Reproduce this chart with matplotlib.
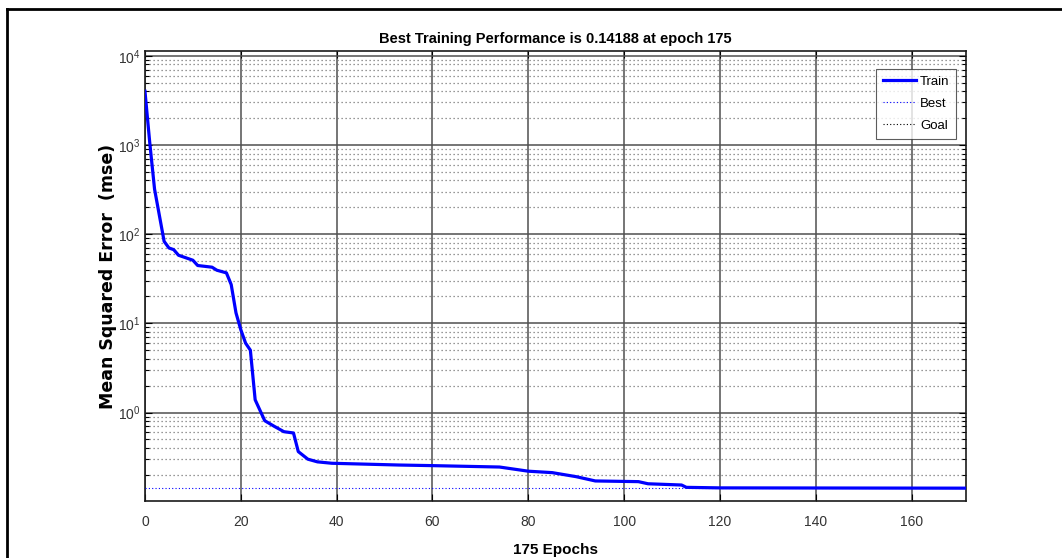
import matplotlib.pyplot as plt
from matplotlib.lines import Line2D
from matplotlib.ticker import FixedLocator, NullFormatter

# Training record (epoch, mean squared error)
epochs = [0, 1, 2, 4, 5, 6, 7, 10, 11, 14, 15, 17, 18, 19, 20, 21, 22, 23,
          25, 27, 29, 31, 32, 34, 36, 39, 53, 60, 74, 80, 85, 90, 94, 103,
          105, 112, 113, 120, 175]
mse = [4000, 1060, 320, 83, 70, 67, 58, 51, 44.5, 42.6, 39.4, 36.8, 27.2,
       13.1, 8.5, 6.0, 5.0, 1.39, 0.81, 0.70, 0.61, 0.59, 0.365, 0.30, 0.28,
       0.27, 0.258, 0.254, 0.245, 0.22, 0.212, 0.191, 0.171, 0.168, 0.159,
       0.154, 0.145, 0.143, 0.14188]
best_perf = 0.14188
best_epoch = 175
goal = 0.0

x_ticks = [0, 20, 40, 60, 80, 100, 120, 140, 160]
y_major = [1, 10, 100, 1000, 10000]
y_major_labels = [r'$\mathregular{10^{%d}}$' % p for p in range(5)]

narrow = ['Liberation Sans Narrow', 'Liberation Sans', 'DejaVu Sans']
text_col = '#333333'

fig = plt.figure(figsize=(10.62, 5.58), dpi=100)
ax = fig.add_axes([0.1365, 0.1022, 0.7728, 0.8064])

ax.plot(epochs, mse, color='#0000ff', lw=2.3, label='Train', zorder=5)
ax.plot([0, epochs[-1]], [best_perf, best_perf], color='#0000ff', lw=0.8,
        ls=(0, (1, 2)), label='Best', zorder=4)
ax.plot([0, epochs[-1]], [goal, goal], color='black', lw=0.8,
        ls=(0, (1, 2)), label='Goal', zorder=4)

ax.set_yscale('log', nonpositive='mask')
ax.set_xlim(0, 171.3)
ax.set_ylim(0.102, 1.13e4)

ax.set_xticks(x_ticks)
ax.set_xticklabels([str(t) for t in x_ticks], family=narrow, fontsize=10,
                   color=text_col)
ax.yaxis.set_major_locator(FixedLocator(y_major))
ax.set_yticklabels(y_major_labels, family=narrow, fontsize=10, color=text_col)
minor = [m * 10.0 ** p for p in range(-1, 4) for m in range(1, 10) if m > 1 or p == -1]
ax.yaxis.set_minor_locator(FixedLocator(minor))
ax.yaxis.set_minor_formatter(NullFormatter())

ax.tick_params(axis='both', which='both', direction='in', top=True, right=True)
ax.tick_params(axis='x', which='major', length=5, width=0.8, pad=10)
ax.tick_params(axis='y', which='major', length=5, width=0.8, pad=3)
ax.tick_params(axis='y', which='minor', length=3, width=0.8)

# grid: solid at major ticks, dotted at minor decades
ax.grid(True, which='major', color='#505050', lw=1.1, ls='-', zorder=1)
ax.grid(True, which='minor', axis='y', color='#777777', lw=0.9,
        ls=(0, (1, 2.2)), zorder=1)
ax.set_axisbelow(True)
for s in ax.spines.values():
    s.set_linewidth(1.2)
    s.set_color('#1a1a1a')

ax.set_title('Best Training Performance is %.5g at epoch %d' % (best_perf, best_epoch),
             family=narrow, fontsize=10.5, fontweight='bold', pad=6)
ax.set_xlabel('%d Epochs' % best_epoch, family=narrow, fontsize=11,
              fontweight='bold', labelpad=10)
ax.set_ylabel('Mean Squared Error  (mse)', family='DejaVu Sans', fontsize=12.5,
              fontweight='bold', labelpad=0.5)

leg = ax.legend(loc='upper right', bbox_to_anchor=(0.9915, 0.966),
                prop={'family': narrow, 'size': 9.5}, frameon=True,
                fancybox=False, edgecolor='#333333', handlelength=2.5,
                handletextpad=0.3, borderpad=0.5, borderaxespad=0.2,
                labelspacing=0.75)
leg.get_frame().set_linewidth(0.8)
leg.set_zorder(10)

# outer frame lines on the left and top of the canvas
fig.add_artist(Line2D([7 / 1062, 7 / 1062], [0, 1 - 9 / 558], color='black', lw=2))
fig.add_artist(Line2D([7 / 1062, 1], [1 - 9 / 558, 1 - 9 / 558], color='black', lw=2))

fig.savefig('out.png', dpi=100)
